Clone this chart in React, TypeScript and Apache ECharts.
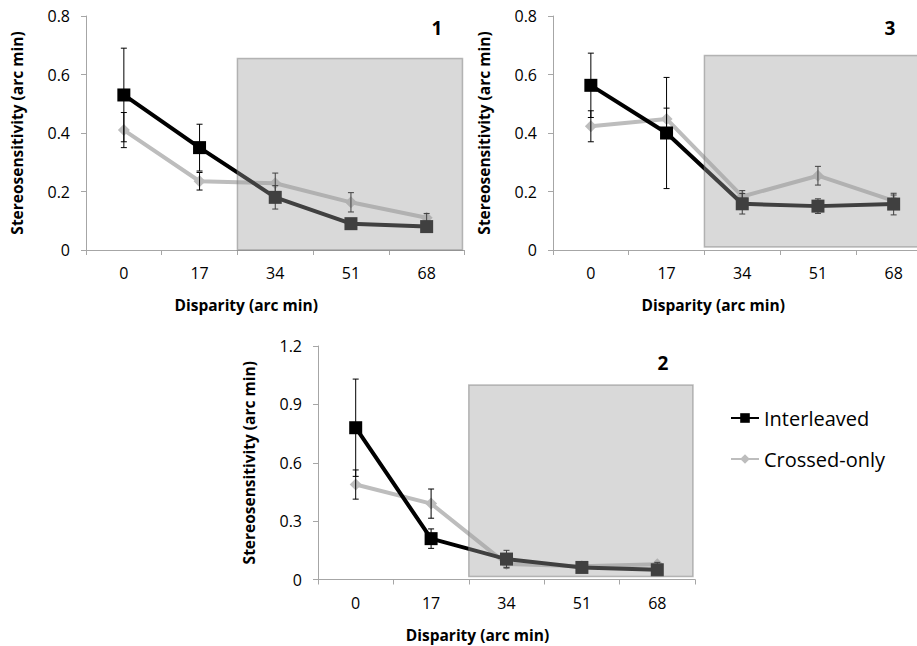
import React, { useEffect, useRef } from "react";
import * as echarts from "echarts";

const categories = ["0", "17", "34", "51", "68"];

// Panel 1
const p1Interleaved = [0.53, 0.35, 0.18, 0.09, 0.08];
const p1InterleavedErr = [0.16, 0.08, 0.04, 0.012, 0.012];
const p1Crossed = [0.41, 0.235, 0.228, 0.163, 0.11];
const p1CrossedErr = [0.06, 0.03, 0.035, 0.033, 0.015];

// Panel 3
const p3Interleaved = [0.563, 0.4, 0.158, 0.15, 0.157];
const p3InterleavedErr = [0.11, 0.19, 0.035, 0.025, 0.037];
const p3Crossed = [0.423, 0.448, 0.183, 0.254, 0.168];
const p3CrossedErr = [0.053, 0.037, 0.02, 0.032, 0.02];

// Panel 2
const p2Interleaved = [0.78, 0.21, 0.105, 0.062, 0.05];
const p2InterleavedErr = [0.25, 0.05, 0.045, 0.01, 0.01];
const p2Crossed = [0.488, 0.39, 0.08, 0.068, 0.078];
const p2CrossedErr = [0.075, 0.075, 0.02, 0.01, 0.01];

// y-axis ranges per panel
const yMax = [0.8, 0.8, 1.2];
const yInterval = [0.2, 0.2, 0.3];
const panelLabels = ["1", "3", "2"];

// shaded regions: [fromCategoryIndex, toCategoryIndex, bottom, top]
const shadeFrom = 1;
const shadeTo = 4;
const shadeBottom = [0, 0.01, 0.015];
const shadeTop = [0.655, 0.665, 1.0];

const FONT = "'Open Sans', 'Liberation Sans', sans-serif";
const AXIS_COLOR = "#a6a6a6";
const CROSSED_COLOR = "#bdbdbd";

const grids = [
  { left: 86, top: 16, width: 378.5, height: 234 },
  { left: 553, top: 16, width: 378.5, height: 234 },
  { left: 318, top: 346, width: 377, height: 233.5 },
];

function errRender(params: any, api: any) {
  const x = api.value(0);
  const v = api.value(1);
  const e = api.value(2);
  const hi = api.coord([x, v + e]);
  const lo = api.coord([x, v - e]);
  const hw = 3;
  const style = { stroke: "#000", lineWidth: 1 };
  return {
    type: "group",
    children: [
      { type: "line", shape: { x1: hi[0], y1: hi[1], x2: lo[0], y2: lo[1] }, style },
      { type: "line", shape: { x1: hi[0] - hw, y1: hi[1], x2: hi[0] + hw, y2: hi[1] }, style },
      { type: "line", shape: { x1: lo[0] - hw, y1: lo[1], x2: lo[0] + hw, y2: lo[1] }, style },
    ],
  };
}

function shadeRender(params: any, api: any) {
  const from = api.value(0);
  const to = api.value(1);
  const bottom = api.value(2);
  const top = api.value(3);
  const a = api.coord([from, bottom]);
  const b = api.coord([from + 1, bottom]);
  const band = b[0] - a[0];
  const x0 = (a[0] + b[0]) / 2;
  const x1 = api.coord([to, bottom])[0] + band / 2 - 2;
  const yTop = api.coord([from, top])[1];
  const yBot = a[1];
  return {
    type: "rect",
    shape: { x: x0, y: yTop, width: x1 - x0, height: yBot - yTop },
    style: {
      fill: "rgba(160,160,160,0.4)",
      stroke: "rgba(110,110,110,0.45)",
      lineWidth: 1.5,
    },
  };
}

export default function App() {
  const ref = useRef<HTMLDivElement>(null);

  useEffect(() => {
    if (!ref.current) return;
    const chart = echarts.init(ref.current, undefined, { renderer: "svg" });

    const panels = [
      { inter: p1Interleaved, interErr: p1InterleavedErr, cross: p1Crossed, crossErr: p1CrossedErr },
      { inter: p3Interleaved, interErr: p3InterleavedErr, cross: p3Crossed, crossErr: p3CrossedErr },
      { inter: p2Interleaved, interErr: p2InterleavedErr, cross: p2Crossed, crossErr: p2CrossedErr },
    ];

    const xAxis = grids.map((_, i) => ({
      type: "category",
      gridIndex: i,
      data: categories,
      boundaryGap: true,
      axisLine: { lineStyle: { color: AXIS_COLOR, width: 1 } },
      axisTick: { show: true, length: 5, interval: 0, lineStyle: { color: AXIS_COLOR } },
      axisLabel: { color: "#000", fontSize: 16, fontFamily: FONT, margin: 15 },
      name: "Disparity (arc min)",
      nameLocation: "middle",
      nameGap: 47,
      nameTextStyle: {
        color: "#000",
        fontSize: 15.5,
        fontWeight: "bold",
        fontFamily: FONT,
        padding: [0, 58, 0, 0],
      },
      splitLine: { show: false },
    }));

    const yAxis = grids.map((_, i) => ({
      type: "value",
      gridIndex: i,
      min: 0,
      max: yMax[i],
      interval: yInterval[i],
      axisLine: { show: true, lineStyle: { color: AXIS_COLOR, width: 1 } },
      axisTick: { show: true, length: 5, lineStyle: { color: AXIS_COLOR } },
      axisLabel: {
        color: "#000",
        fontSize: 16,
        fontFamily: FONT,
        margin: 16,
        formatter: (v: number) => String(+v.toFixed(1)),
      },
      splitLine: { show: false },
      name: "Stereosensitivity (arc min)",
      nameLocation: "middle",
      nameRotate: 90,
      nameGap: 61,
      nameTextStyle: { color: "#000", fontSize: 15.5, fontWeight: "bold", fontFamily: FONT },
    }));

    const series: any[] = [];
    panels.forEach((p, i) => {
      series.push({
        type: "line",
        name: "Crossed-only",
        xAxisIndex: i,
        yAxisIndex: i,
        data: p.cross,
        symbol: "diamond",
        symbolSize: 12,
        itemStyle: { color: CROSSED_COLOR },
        lineStyle: { color: CROSSED_COLOR, width: 4 },
        z: 3,
      });
      series.push({
        type: "line",
        name: "Interleaved",
        xAxisIndex: i,
        yAxisIndex: i,
        data: p.inter,
        symbol: "rect",
        symbolSize: 13,
        itemStyle: { color: "#000" },
        lineStyle: { color: "#000", width: 4 },
        z: 4,
      });
      series.push({
        type: "custom",
        name: "err-cross-" + i,
        xAxisIndex: i,
        yAxisIndex: i,
        renderItem: errRender,
        data: p.cross.map((v, k) => [k, v, p.crossErr[k]]),
        encode: { x: 0, y: 1 },
        z: 5,
        silent: true,
      });
      series.push({
        type: "custom",
        name: "err-inter-" + i,
        xAxisIndex: i,
        yAxisIndex: i,
        renderItem: errRender,
        data: p.inter.map((v, k) => [k, v, p.interErr[k]]),
        encode: { x: 0, y: 1 },
        z: 5,
        silent: true,
      });
      series.push({
        type: "custom",
        name: "shade-" + i,
        xAxisIndex: i,
        yAxisIndex: i,
        renderItem: shadeRender,
        data: [[shadeFrom, shadeTo, shadeBottom[i], shadeTop[i]]],
        encode: { x: 0, y: 2 },
        clip: false,
        z: 10,
        silent: true,
      });
    });

    const labelPos = [
      { x: 437, y: 28 },
      { x: 890, y: 28 },
      { x: 663, y: 363 },
    ];

    chart.setOption({
      animation: false,
      backgroundColor: "#fff",
      grid: grids.map((g) => ({ ...g, containLabel: false })),
      xAxis,
      yAxis,
      series,
      legend: {
        data: ["Interleaved", "Crossed-only"],
        orient: "vertical",
        left: 725,
        top: 403,
        itemWidth: 28,
        itemHeight: 12,
        itemGap: 21,
        textStyle: { fontSize: 20, fontFamily: FONT, color: "#000" },
        selectedMode: false,
      },
      graphic: panelLabels.map((t, i) => ({
        type: "text",
        x: labelPos[i].x,
        y: labelPos[i].y,
        style: {
          text: t,
          fontSize: 19,
          fontWeight: "bold",
          fontFamily: FONT,
          fill: "#000",
          align: "center",
          verticalAlign: "middle",
        },
      })),
    });

    return () => chart.dispose();
  }, []);

  return (
    <div
      style={{
        position: "fixed",
        left: 0,
        top: 0,
        width: 917,
        height: 646,
        overflow: "hidden",
        background: "#fff",
      }}
    >
      <div ref={ref} style={{ width: 950, height: 646 }} />
    </div>
  );
}
